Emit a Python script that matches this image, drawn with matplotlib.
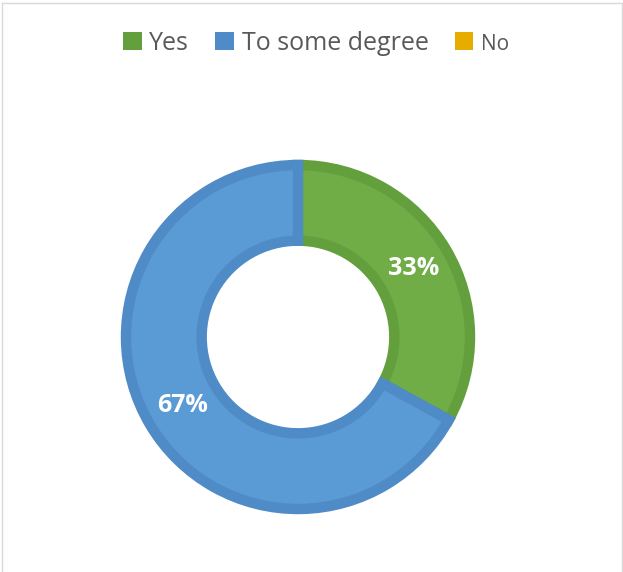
import matplotlib
matplotlib.use("Agg")
import matplotlib.pyplot as plt
from matplotlib.patches import Patch

# ---------------------------------------------------------------------------
# Data
# ---------------------------------------------------------------------------
categories = ["Yes", "To some degree", "No"]
shares = [33, 67, 0]
fill_colors = ["#70AD47", "#5B9BD5", "#FFC000"]
edge_colors = ["#63A03D", "#4F8BC6", "#E6AC00"]

plt.rcParams["font.family"] = ["Open Sans", "DejaVu Sans"]

W, H = 623, 572
fig = plt.figure(figsize=(W / 100, H / 100), dpi=100)

# axes placed so the ring centre sits at (298, 337) px, outer radius 173 px
r_px = 172
cx, cy = 298, H - 337
ax = fig.add_axes([(cx - r_px) / W, (cy - r_px) / H, 2 * r_px / W, 2 * r_px / H])

wedges, _, autotexts = ax.pie(
    shares,
    colors=fill_colors,
    startangle=90,
    counterclock=False,
    radius=1.0,
    autopct=lambda p: f"{p:.0f}%" if p > 0 else "",
    pctdistance=0.78,
    wedgeprops=dict(width=0.44, linewidth=7.5),
    textprops=dict(color="white", fontsize=18, fontweight="bold"),
)
for w, ec, val in zip(wedges, edge_colors, shares):
    w.set_edgecolor(ec)
    if val == 0:
        w.set_linewidth(0)
ax.set_xlim(-1, 1)
ax.set_ylim(-1, 1)
ax.set_aspect("equal")
ax.axis("off")

# legend along the top
handles = [Patch(facecolor=c, edgecolor="none") for c in edge_colors]
leg = fig.legend(
    handles, categories,
    loc="center", bbox_to_anchor=(316 / W, 1 - 43 / H),
    ncol=3, frameon=False,
    handlelength=0.75, handleheight=0.75, handletextpad=0.3,
    columnspacing=1.05, fontsize=18,
)
for t in leg.get_texts():
    t.set_color("#595959")
leg.get_texts()[2].set_fontsize(15)

# light frame around the chart area
fig.add_artist(plt.Line2D([1.5 / W, 1.5 / W], [0, 1 - 2.5 / H], color="#D9D9D9", lw=1))
fig.add_artist(plt.Line2D([621.5 / W, 621.5 / W], [0, 1 - 2.5 / H], color="#D9D9D9", lw=1))
fig.add_artist(plt.Line2D([1.5 / W, 621.5 / W], [1 - 2.5 / H, 1 - 2.5 / H], color="#D9D9D9", lw=1))

fig.savefig("out.png", dpi=100, facecolor="white")
